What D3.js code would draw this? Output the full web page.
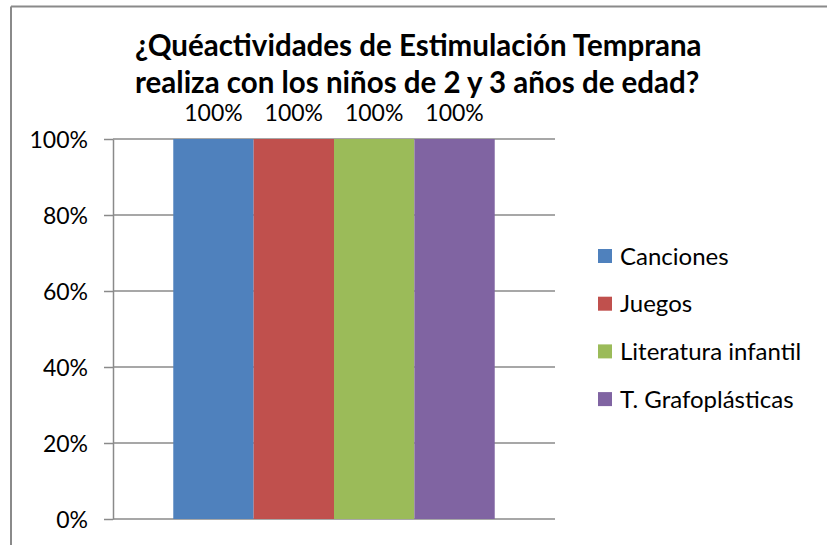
<!DOCTYPE html>
<html>
<head>
<meta charset="utf-8">
<script src="https://cdnjs.cloudflare.com/ajax/libs/d3/7.8.5/d3.min.js"></script>
<style>
  body { margin: 0; background: #fff; }
  text { font-family: Lato, "Open Sans", sans-serif; fill: #000; }
</style>
</head>
<body>
<div id="chart"></div>
<script>
var width = 827;
var height = 545;

// data
var series = ['Canciones', 'Juegos', 'Literatura infantil', 'T. Grafoplásticas'];
var values = [1, 1, 1, 1];
var colors = ['#4F81BD', '#C0504D', '#9BBB59', '#8064A2'];
var yTicks = [0, 0.2, 0.4, 0.6, 0.8, 1];
var titleLines = ['¿Quéactividades de Estimulación Temprana', 'realiza con los niños de 2 y 3 años de edad?'];

var plotLeft = 113, plotRight = 555, plotTop = 139, plotBottom = 519;
var gridColor = '#8a8a8a';

var svg = d3.select('#chart').append('svg')
      .attr('width', width)
      .attr('height', height);

// outer border (only top and left visible in the crop)
svg.append('line')
      .attr('x1', 11).attr('x2', width)
      .attr('y1', 6.5).attr('y2', 6.5)
      .style('stroke', gridColor).style('stroke-width', 2);
svg.append('line')
      .attr('x1', 11).attr('x2', 11)
      .attr('y1', 6.5).attr('y2', height)
      .style('stroke', gridColor).style('stroke-width', 2);

// title
svg.selectAll('.title')
      .data(titleLines)
      .enter()
      .append('text')
            .attr('class', 'title')
            .attr('x', 135)
            .attr('y', (d, i) => 56 + i * 37)
            .style('font-size', '29.5px')
            .style('font-weight', 'bold')
            .text(d => d);

// scales
var xScale = d3.scaleBand()
      .domain(series)
      .range([plotLeft, plotRight])
      .paddingInner(0)
      .paddingOuter(0.75);

var yScale = d3.scaleLinear()
      .domain([0, 1])
      .range([plotBottom, plotTop]);

// gridlines
svg.append('g')
      .selectAll('line')
      .data(yTicks)
      .enter()
      .append('line')
            .attr('x1', plotLeft)
            .attr('x2', plotRight)
            .attr('y1', d => yScale(d))
            .attr('y2', d => yScale(d))
            .style('stroke', gridColor)
            .style('stroke-width', 1.5);

// bars
svg.append('g')
      .selectAll('rect')
      .data(values)
      .enter()
      .append('rect')
            .attr('x', (d, i) => xScale(series[i]))
            .attr('y', d => yScale(d))
            .attr('width', xScale.bandwidth())
            .attr('height', d => yScale(0) - yScale(d))
            .style('fill', (d, i) => colors[i]);

// y axis
var yAxis = d3.axisLeft(yScale)
      .tickValues(yTicks)
      .tickFormat(d3.format('.0%'))
      .tickSizeInner(9)
      .tickSizeOuter(0)
      .tickPadding(16);

var yAxisGroup = svg.append('g')
      .attr('transform', 'translate(' + plotLeft + ', 0)')
      .call(yAxis);
yAxisGroup.selectAll('path, line')
      .style('stroke', gridColor)
      .style('stroke-width', 1.5);
yAxisGroup.selectAll('text')
      .style('font-family', 'Lato, sans-serif')
      .style('font-size', '23px')
      .attr('dy', '0.36em');

// data labels
svg.append('g')
      .selectAll('text')
      .data(values)
      .enter()
      .append('text')
            .attr('x', (d, i) => xScale(series[i]) + xScale.bandwidth() / 2)
            .attr('y', d => yScale(d) - 18)
            .style('text-anchor', 'middle')
            .style('font-size', '23px')
            .text(d => d3.format('.0%')(d));

// legend
var legend = svg.append('g')
      .selectAll('g')
      .data(series)
      .enter()
      .append('g')
            .attr('transform', (d, i) => 'translate(598,' + (256 + i * 47.7) + ')');
legend.append('rect')
      .attr('x', 0)
      .attr('y', -7)
      .attr('width', 14)
      .attr('height', 14)
      .style('fill', (d, i) => colors[i]);
legend.append('text')
      .attr('x', 22)
      .attr('y', 0)
      .attr('dy', '0.36em')
      .style('font-size', '24px')
      .text(d => d);
</script>
</body>
</html>
